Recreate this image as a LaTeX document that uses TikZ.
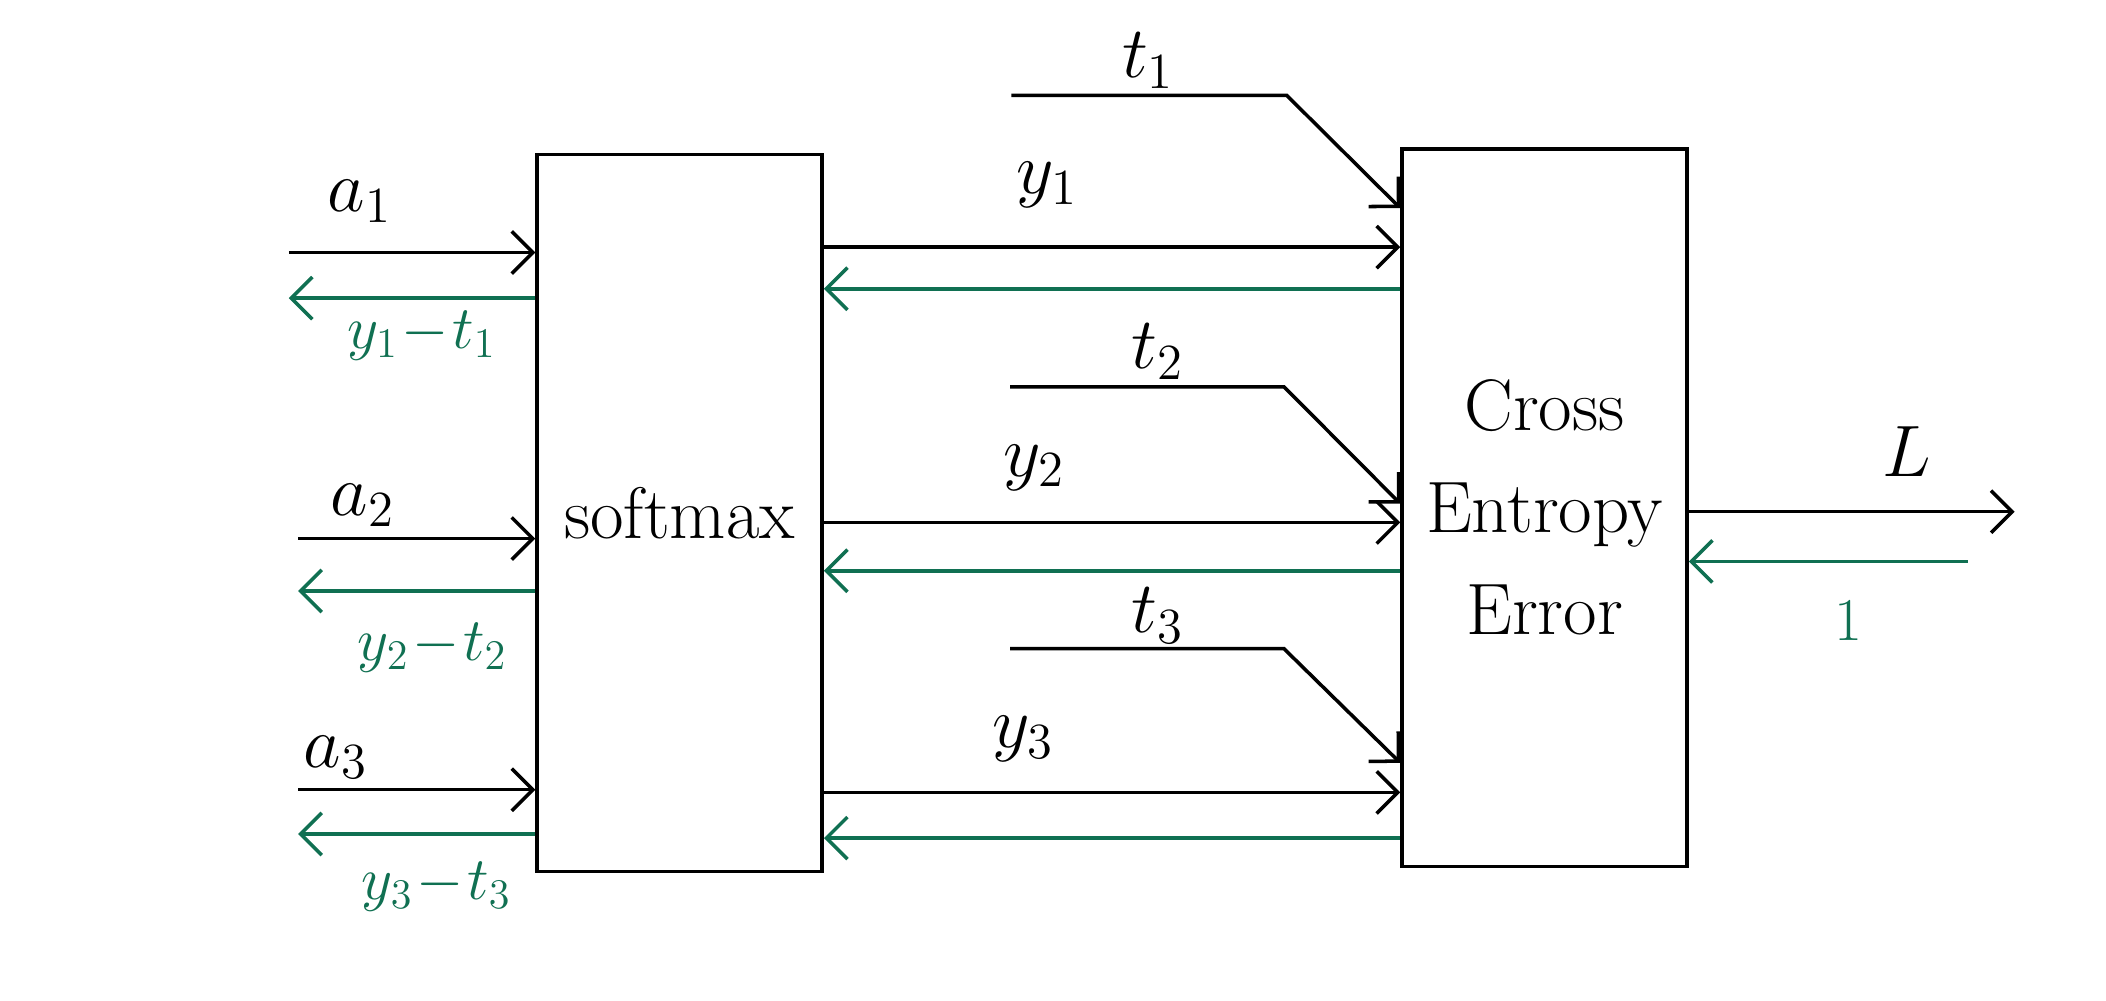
\documentclass[tikz,border=0pt]{standalone}
\usetikzlibrary{arrows.meta,positioning}

\definecolor{backgreen}{RGB}{16,112,82}

\tikzset{
  block/.style={draw,line width=1pt,minimum width=2.85cm,minimum height=7.17cm,
                inner sep=0pt,font=\huge},
  fwd/.style={line width=1pt,-{Straight Barb[length=6pt,width=12pt]}},
  bwd/.style={line width=1pt,color=backgreen,-{Straight Barb[length=6pt,width=12pt]}},
  lbl/.style={font=\huge},
  glbl/.style={font=\LARGE,text=backgreen},
}

\begin{document}
\begin{tikzpicture}[x=0.01343cm,y=-0.01343cm]
  \useasboundingbox (0,0) rectangle (1568,745);

  \node[block] (soft)  at (506,382)  {softmax};
  \node[block,align=center] (cross) at (1150,378) {Cross\\[4pt]Entropy\\[4pt]Error};

  % inputs of softmax
  \coordinate (a1) at (215,188);
  \coordinate (a2) at (222,401);
  \coordinate (a3) at (222,588);
  \draw[fwd] (a1) -- (a1 -| soft.west);
  \draw[fwd] (a2) -- (a2 -| soft.west);
  \draw[fwd] (a3) -- (a3 -| soft.west);
  \coordinate (g1) at (215,222);
  \coordinate (g2) at (222,440);
  \coordinate (g3) at (222,621);
  \draw[bwd] (g1 -| soft.west) -- (g1);
  \draw[bwd] (g2 -| soft.west) -- (g2);
  \draw[bwd] (g3 -| soft.west) -- (g3);
  \node[lbl]  at (268,150) {$a_{1}$};
  \node[lbl]  at (270,376) {$a_{2}$};
  \node[lbl]  at (250,564) {$a_{3}$};
  \node[glbl] at (314,250) {$y_{1}\!-\!t_{1}$};
  \node[glbl] at (322,482) {$y_{2}\!-\!t_{2}$};
  \node[glbl] at (325,660) {$y_{3}\!-\!t_{3}$};

  % softmax -> cross entropy
  \coordinate (y1) at (612,184);
  \coordinate (y2) at (612,389);
  \coordinate (y3) at (612,590);
  \draw[fwd] (y1 -| soft.east) -- (y1 -| cross.west);
  \draw[fwd] (y2 -| soft.east) -- (y2 -| cross.west);
  \draw[fwd] (y3 -| soft.east) -- (y3 -| cross.west);
  \coordinate (h1) at (612,215);
  \coordinate (h2) at (612,425);
  \coordinate (h3) at (612,624);
  \draw[bwd] (h1 -| cross.west) -- (h1 -| soft.east);
  \draw[bwd] (h2 -| cross.west) -- (h2 -| soft.east);
  \draw[bwd] (h3 -| cross.west) -- (h3 -| soft.east);
  \node[lbl] at (780,138) {$y_{1}$};
  \node[lbl] at (770,348) {$y_{2}$};
  \node[lbl] at (762,550) {$y_{3}$};

  % teacher labels
  \coordinate (t1) at (753,71);
  \coordinate (t2) at (752,288);
  \coordinate (t3) at (752,483);
  \draw[fwd] (t1) -- ++(205,0) -- (cross.west |- 0,155);
  \draw[fwd] (t2) -- ++(204,0) -- (cross.west |- 0,375);
  \draw[fwd] (t3) -- ++(204,0) -- (cross.west |- 0,568);
  \node[lbl] at (855,45)  {$t_{1}$};
  \node[lbl] at (862,262) {$t_{2}$};
  \node[lbl] at (862,458) {$t_{3}$};

  % loss
  \coordinate (loss) at (1500,381);
  \coordinate (one)  at (1465,418);
  \draw[fwd] (loss -| cross.east) -- (loss);
  \draw[bwd] (one) -- (one -| cross.east);
  \node[lbl]  at (1420,336) {$L$};
  \node[glbl] at (1376,462) {$1$};
\end{tikzpicture}
\end{document}
